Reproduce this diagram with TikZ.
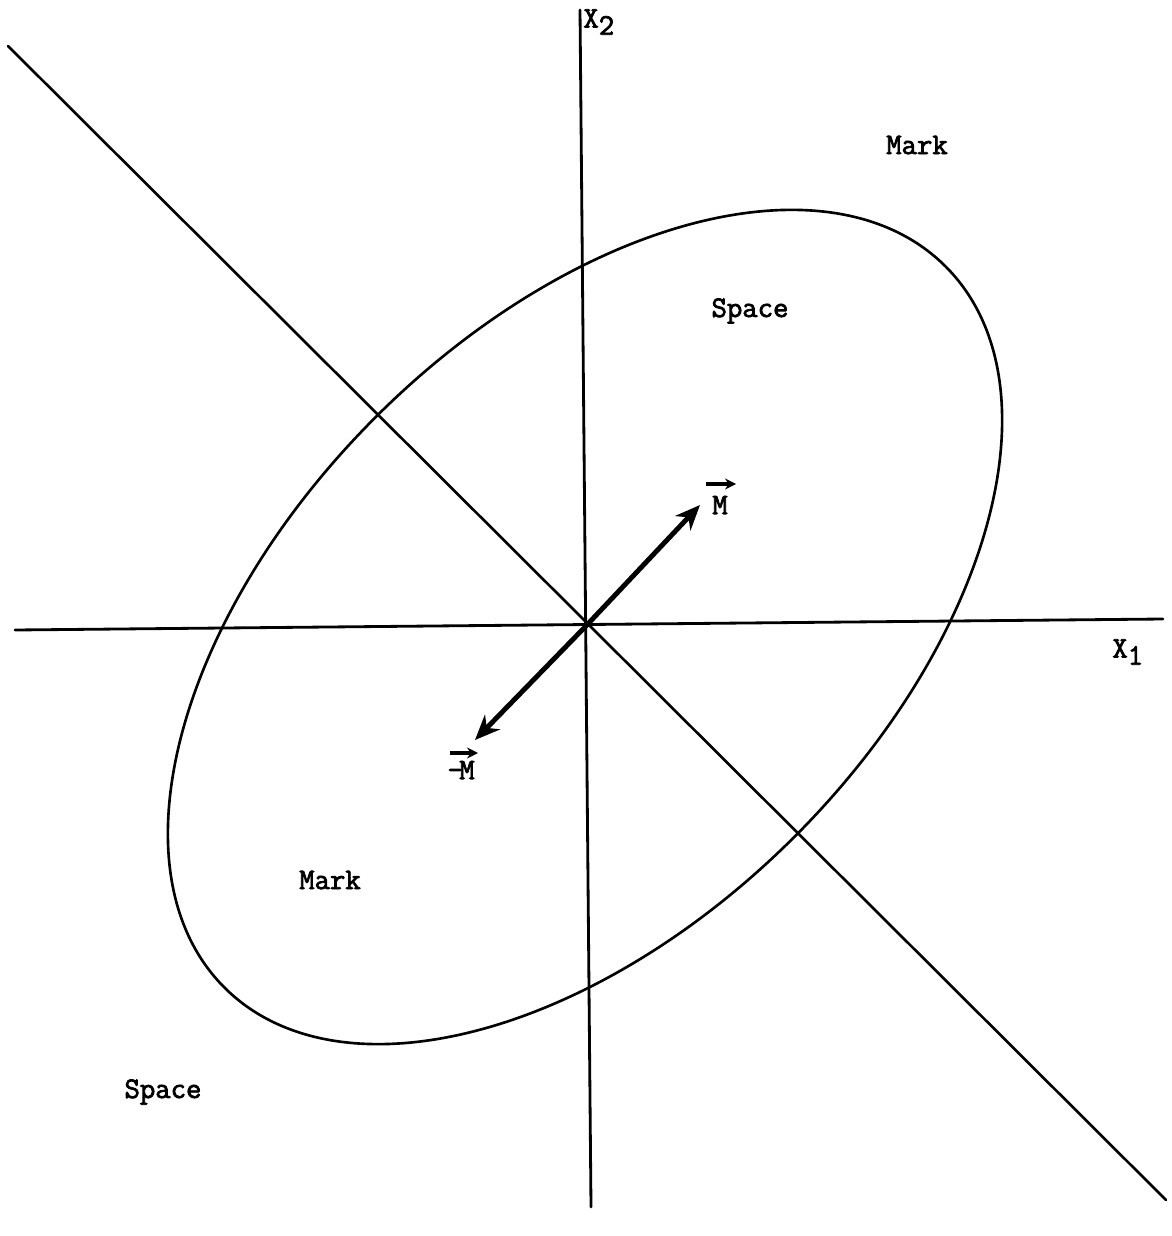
\documentclass[tikz,border=0pt]{standalone}
\usepackage{fontspec}
\setmonofont[AutoFakeBold=2.5]{Latin Modern Mono}
\usetikzlibrary{arrows.meta}
\begin{document}
\begin{tikzpicture}[x=0.02cm,y=-0.02cm,
  axis/.style={line width=1.6pt, line cap=round},
  curve/.style={line width=1.5pt},
  vecarrow/.style={line width=2.8pt, -{Stealth[length=0.5cm,width=0.42cm]}},
  overarrow/.style={line width=1.8pt, -{Stealth[length=0.22cm,width=0.22cm]}},
  lbl/.style={font=\ttfamily\bfseries\fontsize{17}{19}\selectfont, inner sep=0pt}]
\useasboundingbox[fill=white] (0,0) rectangle (1171,1236);
% coordinates
\coordinate (O) at (585,627);
\coordinate (x2top) at (580,10);
\coordinate (x2bot) at (591,1207);
\coordinate (x1left) at (15,630);
\coordinate (x1right) at (1163,619);
\coordinate (dtop) at (8,46);
\coordinate (dbot) at (1166,1200);
\coordinate (Mtip) at (700,505);
\coordinate (mMtip) at (475,740);
% axes and separating line
\draw[axis] (x2top) -- (x2bot);
\draw[axis] (x1left) -- (x1right);
\draw[curve, line cap=round] (dtop) -- (dbot);
% ellipse
\draw[curve, rotate around={45:(O)}] (O) ellipse [x radius=10.2cm, y radius=5.93cm];
% vectors
\draw[vecarrow] (O) -- (Mtip);
\draw[vecarrow] (O) -- (mMtip);
% labels
\node[lbl, anchor=west] (lx2) at (583,22) {X\raisebox{-0.55ex}{2}};
\node[lbl, anchor=west] (lx1) at (1112,652) {X\raisebox{-0.55ex}{1}};
\node[lbl] (lmark1) at (917,145) {Mark};
\node[lbl] (lspace1) at (750,311) {Space};
\node[lbl] (lmark2) at (330,880) {Mark};
\node[lbl] (lspace2) at (163,1092) {Space};
\node[lbl] (lM) at (720,505) {M};
\node[lbl, anchor=east] (lmM) at (475,770) {-\kern-0.12em M};
% vector marks over M
\coordinate (a1s) at (706,484);
\coordinate (a1e) at (736,484);
\coordinate (a2s) at (450,753);
\coordinate (a2e) at (478,753);
\draw[overarrow] (a1s) -- (a1e);
\draw[overarrow] (a2s) -- (a2e);
\end{tikzpicture}
\end{document}
